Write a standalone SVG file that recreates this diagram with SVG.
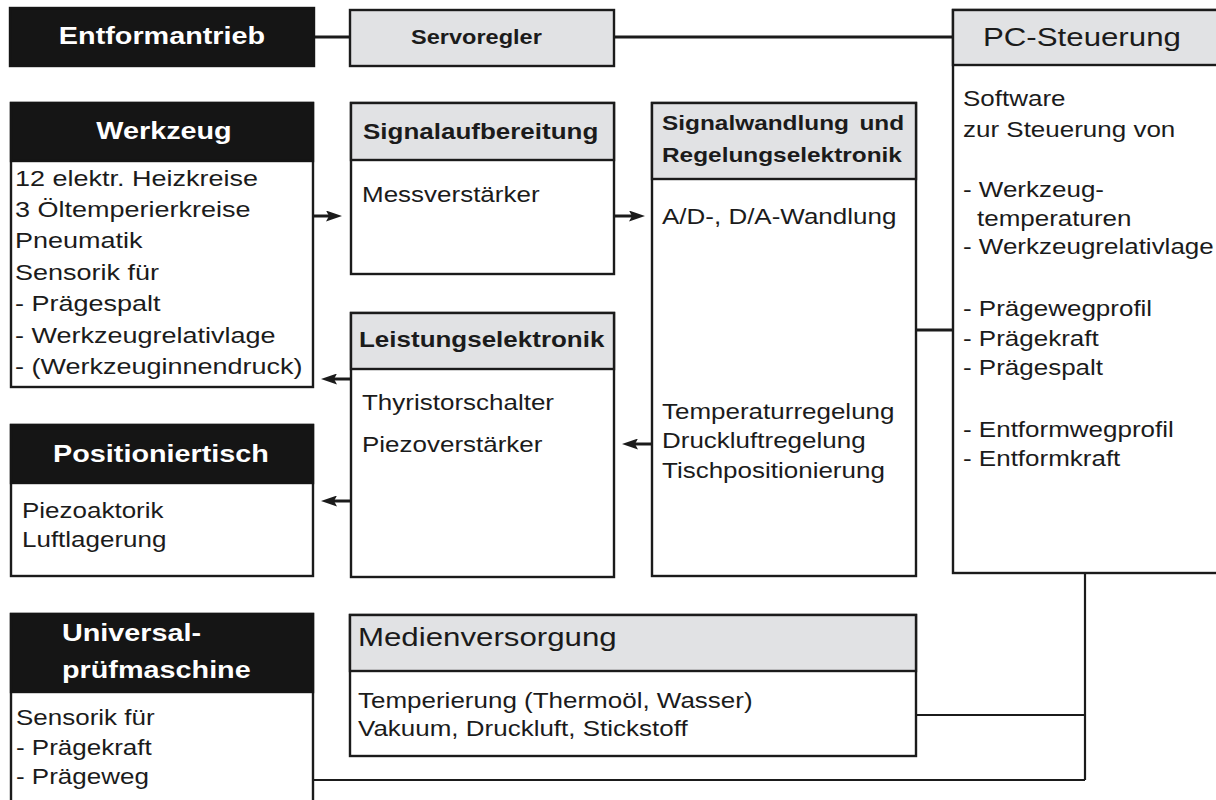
<svg xmlns="http://www.w3.org/2000/svg" width="1216" height="800" viewBox="0 0 1216 800">
<style>
text{font-family:"Liberation Sans",Arial,sans-serif;fill:#1b1b1b}
.box{fill:#fff;stroke:#1b1b1b;stroke-width:2.4}
.hk{fill:#151515;stroke:#151515;stroke-width:2.4}
.hg{fill:#e1e2e4;stroke:#1b1b1b;stroke-width:2.4}
.t{font-size:21.3px}
.tw{font-size:22.5px}
.bw{font-size:23.6px;font-weight:bold;fill:#fff;text-anchor:middle}
.bg{font-size:21.3px;font-weight:bold}
.big{font-size:25.6px}
.conn{stroke:#1b1b1b;stroke-width:3;fill:none}
.thin{stroke-width:2.2}
</style>
<defs>
<marker id="ah" viewBox="0 0 16 11" refX="5" refY="5.5" markerWidth="16" markerHeight="11" markerUnits="userSpaceOnUse" orient="auto">
<path d="M0,0 L16,5.5 L0,11 L3,5.5 z" fill="#1b1b1b"/>
</marker>
</defs>

<g id="connectors">
<path class="conn" d="M314,37 H350 M614,37 H953 M916,330 H953"/>
<path class="conn thin" d="M1085,573 V780 M916,715 H1085 M313,780 H1085"/>
<line class="conn" x1="313" y1="216" x2="331" y2="216" marker-end="url(#ah)"/>
<line class="conn" x1="614" y1="216" x2="634" y2="216" marker-end="url(#ah)"/>
<line class="conn" x1="351" y1="379" x2="332" y2="379" marker-end="url(#ah)"/>
<line class="conn" x1="351" y1="501" x2="332" y2="501" marker-end="url(#ah)"/>
<line class="conn" x1="652" y1="444" x2="633" y2="444" marker-end="url(#ah)"/>
</g>

<g id="entformantrieb">
<rect class="hk" x="10" y="8" width="304" height="58"/>
<text class="bw" transform="translate(162,44) scale(1.22,1)">Entformantrieb</text>
</g>

<g id="servoregler">
<rect class="hg" x="350" y="10" width="264" height="56"/>
<text class="bg" style="font-size:19.3px" transform="translate(411,44) scale(1.22,1)">Servoregler</text>
</g>

<g id="pc-steuerung">
<rect class="box" x="953" y="10" width="270" height="563"/>
<rect class="hg" x="953" y="10" width="270" height="55"/>
<text class="big" transform="translate(983,46) scale(1.22,1)">PC-Steuerung</text>
<text class="t" transform="translate(963,106) scale(1.22,1)">Software</text>
<text class="t" transform="translate(963,137) scale(1.22,1)">zur Steuerung von</text>
<text class="t" transform="translate(963,197) scale(1.22,1)">- Werkzeug-</text>
<text class="t" transform="translate(977,226) scale(1.22,1)">temperaturen</text>
<text class="t" transform="translate(963,254) scale(1.22,1)">- Werkzeugrelativlage</text>
<text class="t" transform="translate(963,316) scale(1.22,1)">- Prägewegprofil</text>
<text class="t" transform="translate(963,346) scale(1.22,1)">- Prägekraft</text>
<text class="t" transform="translate(963,375) scale(1.22,1)">- Prägespalt</text>
<text class="t" transform="translate(963,437) scale(1.22,1)">- Entformwegprofil</text>
<text class="t" transform="translate(963,466) scale(1.22,1)">- Entformkraft</text>
</g>

<g id="werkzeug">
<rect class="box" x="11" y="103" width="302" height="284"/>
<rect class="hk" x="11" y="103" width="302" height="58"/>
<text class="bw" transform="translate(164,139) scale(1.22,1)">Werkzeug</text>
<text class="tw" transform="translate(15,186) scale(1.2,1)">12 elektr. Heizkreise</text>
<text class="tw" transform="translate(15,217) scale(1.2,1)">3 Öltemperierkreise</text>
<text class="tw" transform="translate(15,248) scale(1.2,1)">Pneumatik</text>
<text class="tw" transform="translate(15,280) scale(1.2,1)">Sensorik für</text>
<text class="tw" transform="translate(15,311) scale(1.2,1)">- Prägespalt</text>
<text class="tw" transform="translate(15,343) scale(1.2,1)">- Werkzeugrelativlage</text>
<text class="tw" transform="translate(15,374) scale(1.2,1)">- (Werkzeuginnendruck)</text>
</g>

<g id="signalaufbereitung">
<rect class="box" x="351" y="103" width="263" height="171"/>
<rect class="hg" x="351" y="103" width="263" height="57"/>
<text class="bg" transform="translate(363,139) scale(1.22,1)">Signalaufbereitung</text>
<text class="t" transform="translate(362,202) scale(1.22,1)">Messverstärker</text>
</g>

<g id="signalwandlung">
<rect class="box" x="652" y="103" width="264" height="473"/>
<rect class="hg" x="652" y="103" width="264" height="76"/>
<text class="bg" style="font-size:20px;word-spacing:3px" transform="translate(662,130) scale(1.22,1)">Signalwandlung und</text>
<text class="bg" style="font-size:20px" transform="translate(662,162) scale(1.22,1)">Regelungselektronik</text>
<text class="t" transform="translate(662,224) scale(1.22,1)">A/D-, D/A-Wandlung</text>
<text class="t" transform="translate(662,419) scale(1.22,1)">Temperaturregelung</text>
<text class="t" transform="translate(662,448) scale(1.22,1)">Druckluftregelung</text>
<text class="t" transform="translate(662,478) scale(1.22,1)">Tischpositionierung</text>
</g>

<g id="leistungselektronik">
<rect class="box" x="351" y="313" width="263" height="264"/>
<rect class="hg" x="351" y="313" width="263" height="56"/>
<text class="bg" transform="translate(359,347) scale(1.22,1)">Leistungselektronik</text>
<text class="t" transform="translate(362,410) scale(1.22,1)">Thyristorschalter</text>
<text class="t" transform="translate(362,452) scale(1.22,1)">Piezoverstärker</text>
</g>

<g id="positioniertisch">
<rect class="box" x="11" y="425" width="302" height="151"/>
<rect class="hk" x="11" y="425" width="302" height="58"/>
<text class="bw" transform="translate(161,462) scale(1.22,1)">Positioniertisch</text>
<text class="t" transform="translate(22,518) scale(1.22,1)">Piezoaktorik</text>
<text class="t" transform="translate(22,547) scale(1.22,1)">Luftlagerung</text>
</g>

<g id="universalpruefmaschine">
<rect class="box" x="11" y="614" width="302" height="200"/>
<rect class="hk" x="11" y="614" width="302" height="78"/>
<text class="bw" style="text-anchor:start" transform="translate(62,641) scale(1.22,1)">Universal-</text>
<text class="bw" style="text-anchor:start" transform="translate(62,678) scale(1.22,1)">prüfmaschine</text>
<text class="t" transform="translate(16,725) scale(1.22,1)">Sensorik für</text>
<text class="t" transform="translate(16,755) scale(1.22,1)">- Prägekraft</text>
<text class="t" transform="translate(16,784) scale(1.22,1)">- Prägeweg</text>
</g>

<g id="medienversorgung">
<rect class="box" x="350" y="615" width="566" height="141"/>
<rect class="hg" x="350" y="615" width="566" height="56"/>
<text class="big" transform="translate(358,646) scale(1.22,1)">Medienversorgung</text>
<text class="t" transform="translate(358,708) scale(1.22,1)">Temperierung (Thermoöl, Wasser)</text>
<text class="t" transform="translate(358,736) scale(1.22,1)">Vakuum, Druckluft, Stickstoff</text>
</g>
</svg>
